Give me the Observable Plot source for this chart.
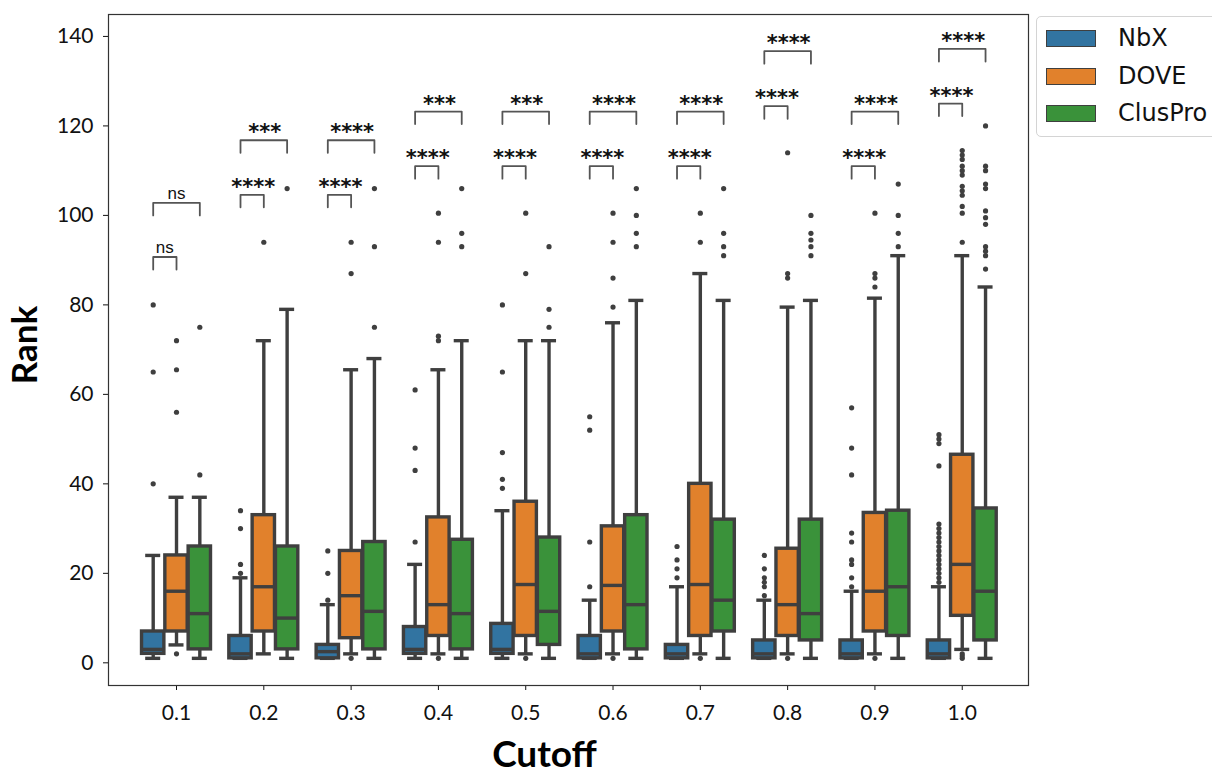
<!DOCTYPE html>
<html><head><meta charset="utf-8">
<script src="https://cdn.jsdelivr.net/npm/d3@7"></script>
<script src="https://cdn.jsdelivr.net/npm/@observablehq/plot@0.6"></script>
<style>
body{margin:0;background:#fff;}
#wrap{position:relative;width:1212px;height:776px;overflow:hidden;}
#legend{position:absolute;left:1036px;top:16px;width:210px;height:119px;border:1.5px solid #d4d4d4;border-radius:5px;background:#fff;font-family:"DejaVu Sans";font-size:24px;color:#111;}
.sw{position:absolute;left:9px;width:48px;height:15px;border:1.5px solid #3f3f3f;}
.lab{position:absolute;left:81px;line-height:24px;}
g[aria-label="stars"] text{letter-spacing:2px;}
g[aria-label="rank"] text{letter-spacing:2px;}
</style></head>
<body><div id="wrap"><div id="chart"></div><div id="legend"></div></div>
<script>
const categories = ["0.1","0.2","0.3","0.4","0.5","0.6","0.7","0.8","0.9","1.0"];
const hues = ["NbX","DOVE","ClusPro"];
const hueColors = ["#3274a1","#e1812c","#3a923a"];

// NbX
const nbxLo  = [1,1,1,1,1,1,1,1,1,1];
const nbxQ1  = [2,1,1,2,2,1,1,1,1,1];
const nbxMed = [3,2,2.5,3,3,2,2,2,2,2];
const nbxQ3  = [7,6,4,8,8.7,6,4,5,5,5];
const nbxHi  = [24,19,13,22,34,14,17,14,16,17];
const nbxOut = [[40,65,80],[20,22,30,34],[14,20,25],[27,43,48,61],[39,41,47,65,80],[17,27,52,55],[19,21,23,26],[15,17,18,19,21,24],[17,19,22,23,27,29,42,48,57],[18,19,20,21,22,23,24,25,26,27,28,29,30,31,44,49,50,51]];
// DOVE
const doveLo  = [4,2,2,2,2,2,2,2,2,3];
const doveQ1  = [7,7,5.5,6,6,7,6,6,7,10.5];
const doveMed = [16,17,15,13,17.5,17.3,17.5,13,16,22];
const doveQ3  = [24,33,25,32.5,36,30.5,40,25.5,33.5,46.5];
const doveHi  = [37,72,65.5,65.5,72,76,87,79.5,81.5,91];
const doveOut = [[2,56,65.5,72],[94],[1,87,94],[1,72,73,94,100.5],[1,87,100.5],[1,79.5,86,94,100.5],[1,94,100.5],[1,86,87,114],[1,84,86,87,100.5],[1,1.5,2,94,100.5,102,104.5,105.5,106.5,109,110,111,112.5,113.5,114.5]];
// ClusPro
const clusLo  = [1,1,1,1,1,1,1,1,1,1];
const clusQ1  = [3,3,3,3,4,3,7,5,6,5];
const clusMed = [11,10,11.5,11,11.5,13,14,11,17,16];
const clusQ3  = [26,26,27,27.5,28,33,32,32,34,34.5];
const clusHi  = [37,79,68,72,72,81,81,81,91,84];
const clusOut = [[42,75],[106],[75,93,106],[93,96,106],[75,79,93],[93,96,100,106],[91,93,96,106],[91,93,94.5,96,100],[93,96,100,107],[88,91,92,93,98,99.5,101,106,107,110,111,120]];

// significance annotations
const shortY = [90.7,104.6,104.6,111,111,111,111,124.4,111,125];
const longY  = [102.8,116.8,116.8,123.2,123.2,123.2,123.2,136.7,123.2,137.2];
const shortLabel = ["ns","****","****","****","****","****","****","****","****","****"];
const longLabel  = ["ns","***","****","***","***","****","****","****","****","****"];
const yTicks = [0,20,40,60,80,100,120,140];

const offsets = [-0.267,0,0.267];
const stats = [
  [nbxLo,nbxQ1,nbxMed,nbxQ3,nbxHi,nbxOut],
  [doveLo,doveQ1,doveMed,doveQ3,doveHi,doveOut],
  [clusLo,clusQ1,clusMed,clusQ3,clusHi,clusOut]
];
const boxes = [], outliers = [];
hues.forEach((h,k)=>{
  const [lo,q1,med,q3,hi,out] = stats[k];
  categories.forEach((c,i)=>{
    const xc = i + offsets[k];
    boxes.push({hue:h, xc, lo:lo[i], q1:q1[i], med:med[i], q3:q3[i], hi:hi[i]});
    out[i].forEach(v=>outliers.push({hue:h, xc, v}));
  });
});
const legH = 2.8;
const brackets = [], bracketLines = [];
categories.forEach((c,i)=>{
  const a = i+offsets[0], b = i+offsets[1], d = i+offsets[2];
  brackets.push({xm:(a+b)/2, y:shortY[i], label:shortLabel[i]});
  brackets.push({xm:(a+d)/2, y:longY[i], label:longLabel[i]});
  [[a,b,shortY[i],"s"+i],[a,d,longY[i],"l"+i]].forEach(([x1,x2,y,id])=>{
    bracketLines.push({id,x:x1,y:y-legH},{id,x:x1,y},{id,x:x2,y},{id,x:x2,y:y-legH});
  });
});
const hw = 0.128, cw = 0.086, edge = "#3f3f3f", sw = 3.4;

const chart = Plot.plot({
  width:1212, height:776,
  marginLeft:108, marginRight:184, marginTop:14, marginBottom:91,
  style:{fontFamily:"Lato", fontSize:"21px", color:"#111", background:"#fff"},
  x:{type:"linear", domain:[-0.779,9.759]},
  y:{domain:[-5.07,144.9]},
  color:{domain:hues, range:hueColors},
  marks:[
    Plot.axisX({ticks:d3.range(categories.length), tickFormat:i=>categories[i], tickSize:5, tickPadding:15, label:null, fontSize:21}),
    Plot.axisY({ticks:yTicks, tickSize:5, tickPadding:10, label:null, fontSize:21}),
    Plot.ruleX(boxes,{x:"xc", y1:"lo", y2:"q1", stroke:edge, strokeWidth:sw}),
    Plot.ruleX(boxes,{x:"xc", y1:"q3", y2:"hi", stroke:edge, strokeWidth:sw}),
    Plot.ruleY(boxes,{y:"lo", x1:d=>d.xc-cw, x2:d=>d.xc+cw, stroke:edge, strokeWidth:sw}),
    Plot.ruleY(boxes,{y:"hi", x1:d=>d.xc-cw, x2:d=>d.xc+cw, stroke:edge, strokeWidth:sw}),
    Plot.rect(boxes,{x1:d=>d.xc-hw, x2:d=>d.xc+hw, y1:"q1", y2:"q3", fill:"hue", stroke:edge, strokeWidth:sw}),
    Plot.ruleY(boxes,{y:"med", x1:d=>d.xc-hw, x2:d=>d.xc+hw, stroke:edge, strokeWidth:sw}),
    Plot.dot(outliers,{x:"xc", y:"v", r:2.6, fill:edge, stroke:null}),
    Plot.line(bracketLines,{x:"x", y:"y", z:"id", stroke:"#555", strokeWidth:1.8, curve:"linear"}),
    Plot.text(brackets.filter(d=>d.label==="ns"),{x:"xm", y:"y", text:"label", lineAnchor:"bottom", dy:-4, fontFamily:"Liberation Sans", fontSize:17, fill:"#111"}),
    Plot.text(brackets.filter(d=>d.label!=="ns"),{x:"xm", y:"y", text:"label", lineAnchor:"bottom", dy:-1, dx:1, fontFamily:"DejaVu Sans", fontWeight:"bold", fontSize:21, fill:"#111", ariaLabel:"stars"}),
    Plot.frame({stroke:"#333", strokeWidth:1.2}),
    Plot.text(["Rank"],{frameAnchor:"left", textAnchor:"middle", lineAnchor:"middle", dx:-83, dy:-5, rotate:-90, text:d=>d, fontFamily:"Lato", fontWeight:"bold", fontSize:35, fill:"#000", ariaLabel:"rank"}),
    Plot.text(["Cutoff"],{frameAnchor:"bottom", textAnchor:"middle", lineAnchor:"bottom", dx:-24, dy:81, text:d=>d, fontFamily:"Lato", fontWeight:"bold", fontSize:37, fill:"#000"})
  ]
});
document.getElementById("chart").appendChild(chart);

const leg = document.getElementById("legend");
const itemTops = [13, 50.5, 88];
hues.forEach((h,k)=>{
  const sw = document.createElement("div");
  sw.className = "sw"; sw.style.top = itemTops[k]+"px"; sw.style.background = hueColors[k];
  const lab = document.createElement("div");
  lab.className = "lab"; lab.style.top = (itemTops[k]-4)+"px"; lab.textContent = h;
  leg.appendChild(sw); leg.appendChild(lab);
});
</script></body></html>
